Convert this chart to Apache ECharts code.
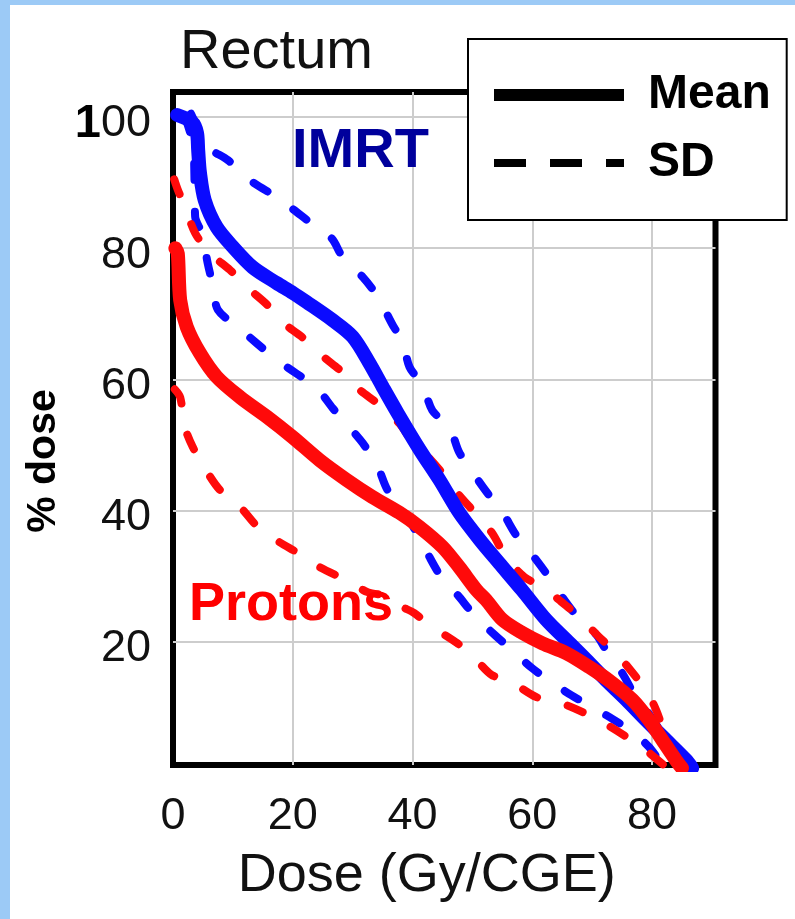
<!DOCTYPE html>
<html>
<head>
<meta charset="utf-8">
<title>Rectum</title>
<script src="https://cdn.jsdelivr.net/npm/echarts@6/dist/echarts.min.js"></script>
<style>
  html, body { margin: 0; padding: 0; background: #9ccaf6; }
  #sheet { position: absolute; left: 10px; top: 5px; width: 785px; height: 914px; background: #fff; }
  #chart { position: absolute; left: 0; top: 0; width: 795px; height: 919px; }
</style>
</head>
<body>
<div id="sheet"></div>
<div id="chart"></div>
<script>
// dose (Gy/CGE) vs % dose
var imrtMean = [[0.7,100.3],[3.2,99.2],[4,97.6],[4.2,95],[4.5,91.5],[5.3,87.3],[7.3,83.2],[10,80.2],[13.3,77.1],[17.3,74.7],[20,73.2],[22.3,71.8],[26.7,69],[30,66.5],[32.8,62.5],[35,58.9],[37.5,54.9],[41.2,49.3],[44.5,44.7],[47.8,39.7],[51.2,35.6],[54.5,32],[58.3,27.9],[62.3,23.4],[65.7,20.3],[69,17.3],[72.3,14.2],[75.7,11.2],[79,8.1],[82.3,5.1],[85.7,2],[86.7,0.8]];
var imrtUpper = [[3,100.5],[4.3,98],[5.8,95.4],[9.2,93.4],[12.8,90.4],[16.2,88.4],[19.5,86.3],[22.8,84],[26.5,81.5],[28.3,78.7],[31.7,75.6],[34.2,72.6],[36.8,68.1],[38.3,66],[39.5,61.9],[41.7,59.1],[43.3,55.3],[46.2,52.6],[47.8,48.9],[50,45.9],[52.5,42.7],[55,39.8],[57.3,36.3],[60,33.3],[62.3,30.5],[64.5,27.5],[67.3,24.1],[70.7,21.1],[72.8,18],[75,15.3],[77.3,11.6],[78.7,10.1],[81,7],[84,3.5],[86,1]];
var imrtLower = [[2,100],[3.3,96],[3.6,90],[3.7,84.8],[4.8,82.3],[5.8,77.7],[6.7,74.1],[7.5,70.6],[10.8,68],[14,65.5],[17.3,63],[20.3,61.1],[24,58.7],[26.7,55.6],[29.2,53],[31.7,50.3],[34.2,46.7],[35.8,43.2],[37.8,41.2],[40.7,36.6],[42.5,33.5],[44.8,29.9],[47.5,27.2],[50.3,24.1],[53.7,21.1],[56.2,19.1],[60,16],[63.2,13.9],[66.5,11.9],[70,10.1],[73.7,8.1],[77,6.1],[79.5,4],[81.5,1.6],[82.3,0.8]];
var protonMean = [[0.4,80],[0.8,79.2],[1.2,72.1],[2.3,68],[4.5,64],[7.3,60.4],[11.2,57.3],[15.7,54.3],[20,51.2],[24.5,47.7],[29,44.7],[33.3,42.1],[37.8,39.7],[41.2,37.5],[45,34.5],[47.8,31.4],[50.7,27.9],[52.3,26.4],[55,23.4],[58.3,21.4],[61.7,19.8],[65.7,18.3],[69.5,16.2],[73.3,13.8],[76.7,11.2],[79.5,8.1],[81.7,5.1],[84,2],[85,0.8]];
var protonUpper = [[0.2,90.5],[0.8,88.9],[2,86.3],[3.7,82.3],[6.2,79.2],[9.5,76.7],[12.3,74.1],[15.7,71.4],[18.3,68.7],[21.5,66.5],[24.8,63.7],[28.3,61.1],[30.8,58.7],[34.5,56.1],[37.8,53.3],[40,50.5],[42.3,48.5],[45.3,45.4],[47.5,42.7],[50.8,39.3],[53.3,36.6],[55.7,32.8],[58.7,29.9],[61.7,28.4],[64.5,26.4],[67.5,24.1],[70.8,21.1],[74,18.3],[77.3,14.7],[79,12.7],[80.7,9.6],[82.5,5],[84,1.5],[84.5,0.8]];
var protonLower = [[0.3,58.5],[1.2,57.3],[2,52.7],[3.3,49.7],[5.7,45.9],[7.8,43.2],[11.2,40.6],[14.2,37.5],[17.8,35.2],[20.8,33.6],[24.5,31.4],[29,29.4],[32.5,27.6],[36.2,26.9],[37.8,25.6],[40.3,24.4],[42.8,22.6],[47.5,19.8],[50.3,17.6],[53.2,15],[56.5,13.9],[60.7,11.6],[64.2,10.9],[68.7,9.2],[71.7,7.8],[75.8,5.5],[79,3.5],[82,1.2]];
var yTicks = [20, 40, 60, 80, 100];
var xTicks = [0, 20, 40, 60, 80];

var sans = '"Liberation Sans", Arial, sans-serif';
var BLUE = '#0a0aff', RED = '#ff0a0a';

function curve(name, data, color, dashed) {
    return {
        type: 'line',
        name: name,
        data: data,
        symbol: 'none',
        smooth: 0.3,
        silent: true,
        z: dashed ? 2 : 3,
        lineStyle: {
            color: color,
            width: dashed ? 8 : 14,
            type: dashed ? [16, 32] : 'solid',
            cap: 'round',
            join: 'round'
        }
    };
}

var chart = echarts.init(document.getElementById('chart'));
chart.setOption({
    animation: false,
    backgroundColor: 'transparent',
    title: [
        { text: 'Rectum', left: 180, top: 25, padding: 0,
          textStyle: { fontFamily: sans, fontWeight: 'normal', fontSize: 56, color: '#111' } },
        { text: 'IMRT', left: 292, top: 124, padding: 0,
          textStyle: { fontFamily: sans, fontWeight: 'bold', fontSize: 56, color: '#00009c' } },
        { text: 'Protons', left: 189, top: 578, padding: 0,
          textStyle: { fontFamily: sans, fontWeight: 'bold', fontSize: 54, color: '#ff0000' } }
    ],
    legend: {
        orient: 'vertical',
        left: 468,
        top: 39,
        data: [
            { name: 'Mean', icon: 'path://M0,0H130V12H0Z', itemStyle: { color: '#000', opacity: 1 } },
            { name: 'SD', icon: 'path://M0,0L0,0M0,2H32V10H0ZM56,2H88V10H56ZM112,2H130V10H112ZM130,12L130,12', itemStyle: { color: '#000', opacity: 1 } }
        ],
        itemWidth: 130,
        itemHeight: 12,
        itemGap: 20,
        padding: [32, 16, 33, 26],
        backgroundColor: '#fff',
        borderColor: '#000',
        borderWidth: 2,
        selectedMode: false,
        z: 10,
        textStyle: { fontFamily: sans, fontWeight: 'bold', fontSize: 48, color: '#000', padding: [0, 0, 0, 19] }
    },
    grid: {
        left: 173, top: 92, width: 542.5, height: 673,
        show: true, borderColor: '#000', borderWidth: 6,
        containLabel: false, outerBoundsMode: 'none'
    },
    xAxis: {
        type: 'value', min: 0, max: 90.6, splitNumber: 5,
        axisLine: { show: false },
        axisTick: { show: false },
        splitLine: { show: true, showMinLine: false, showMaxLine: false, lineStyle: { color: '#cdcdcd', width: 2 } },
        axisLabel: {
            margin: 29, fontSize: 45, fontFamily: sans, color: '#111',
            formatter: function (v) { return xTicks.indexOf(v) >= 0 ? String(v) : ''; }
        },
        name: 'Dose (Gy/CGE)', nameLocation: 'middle', nameGap: 84,
        nameTextStyle: { fontSize: 54, fontFamily: sans, color: '#111', padding: [0, 35, 0, 0] }
    },
    yAxis: {
        type: 'value', min: 1.26, max: 103.8, splitNumber: 5,
        axisLine: { show: false },
        axisTick: { show: false },
        splitLine: { show: true, showMinLine: false, showMaxLine: false, lineStyle: { color: '#cdcdcd', width: 2 } },
        axisLabel: {
            margin: 22, fontSize: 45, fontFamily: sans, color: '#111', padding: [14, 0, 0, 0],
            formatter: function (v) {
                if (v === 100) return '{b|1}00';
                return yTicks.indexOf(v) >= 0 ? String(v) : '';
            },
            rich: { b: { fontSize: 47, fontWeight: 'bold', fontFamily: sans, color: '#000' } }
        },
        name: '% dose', nameLocation: 'middle', nameGap: 89,
        nameTextStyle: { fontSize: 41, fontWeight: 'bold', fontFamily: sans, color: '#000', padding: [0, 65, 0, 0] }
    },
    series: [
        curve('IMRT +SD', imrtUpper, BLUE, true),
        curve('IMRT -SD', imrtLower, BLUE, true),
        curve('Protons +SD', protonUpper, RED, true),
        curve('Protons -SD', protonLower, RED, true),
        curve('IMRT', imrtMean, BLUE, false),
        curve('Protons', protonMean, RED, false),
        { type: 'scatter', name: 'Mean', data: [], itemStyle: { color: '#000', opacity: 1 } },
        { type: 'scatter', name: 'SD', data: [], itemStyle: { color: '#000', opacity: 1 } }
    ]
});
</script>
</body>
</html>
